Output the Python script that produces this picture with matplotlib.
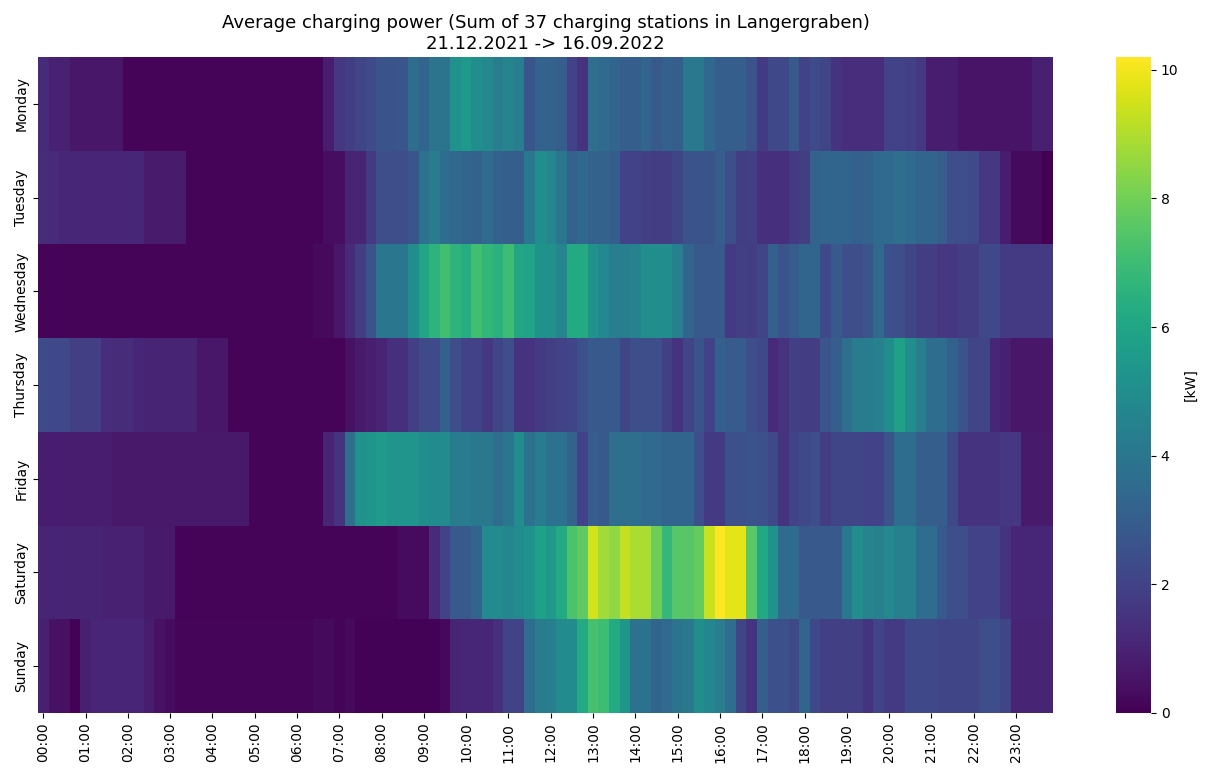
import numpy as np
import pandas as pd
import matplotlib
matplotlib.use("Agg")
import matplotlib.pyplot as plt
import seaborn as sns

days = ["Monday", "Tuesday", "Wednesday", "Thursday", "Friday", "Saturday", "Sunday"]
hour_labels = [f"{h:02d}:00" for h in range(24)]
slot_labels = [f"{h:02d}:{m:02d}" for h in range(24) for m in (0, 15, 30, 45)]

# Average power in kW per 15-minute slot
monday = [
    1.2, 0.95, 0.95, 0.6, 0.6, 0.6, 0.6, 0.6, 0.1, 0.1, 0.1, 0.1,
    0.1, 0.1, 0.1, 0.1, 0.1, 0.1, 0.1, 0.1, 0.1, 0.1, 0.1, 0.1,
    0.1, 0.1, 0.1, 0.8, 1.6, 1.8, 2.1, 2.3, 2.6, 2.6, 2.7, 3.6,
    3.3, 3.9, 3.9, 5.1, 5.5, 5.0, 4.8, 4.3, 4.6, 4.3, 2.7, 3.2,
    3.2, 3.0, 2.0, 1.5, 3.7, 3.5, 3.3, 3.0, 3.0, 3.3, 2.8, 3.1,
    3.0, 4.1, 4.1, 3.4, 3.0, 3.0, 3.0, 2.6, 1.7, 2.2, 2.2, 2.8,
    2.0, 2.3, 2.1, 1.5, 1.3, 1.3, 1.3, 1.3, 2.0, 2.0, 1.9, 1.6,
    0.8, 0.8, 0.8, 0.55, 0.55, 0.55, 0.55, 0.55, 0.55, 0.55, 0.9, 0.9,
]
tuesday = [
    1.25, 1.2, 1.1, 1.1, 1.05, 1.05, 1.05, 1.05, 1.1, 1.1, 0.75, 0.75,
    0.75, 0.75, 0.1, 0.1, 0.1, 0.1, 0.1, 0.1, 0.1, 0.1, 0.1, 0.1,
    0.1, 0.1, 0.1, 0.35, 0.35, 1.0, 1.0, 1.7, 2.4, 2.4, 2.4, 2.7,
    3.8, 4.2, 3.6, 3.4, 3.3, 3.2, 3.5, 3.2, 3.0, 3.0, 4.1, 5.0,
    4.7, 4.0, 3.2, 3.4, 3.2, 3.2, 3.0, 2.0, 2.0, 1.9, 1.8, 1.8,
    2.1, 2.6, 2.6, 2.6, 3.0, 2.4, 1.8, 1.9, 1.4, 1.4, 1.4, 1.7,
    1.8, 3.2, 3.3, 3.3, 3.3, 3.1, 3.2, 3.5, 3.5, 3.7, 3.5, 3.3,
    3.3, 3.0, 2.4, 2.4, 2.3, 1.6, 1.6, 0.8, 0.25, 0.25, 0.25, 0.0,
]
wednesday = [
    0.1, 0.1, 0.1, 0.1, 0.1, 0.1, 0.1, 0.1, 0.1, 0.1, 0.1, 0.1,
    0.1, 0.1, 0.1, 0.1, 0.1, 0.1, 0.1, 0.1, 0.1, 0.1, 0.1, 0.1,
    0.1, 0.1, 0.25, 0.25, 0.6, 1.2, 1.8, 2.6, 4.0, 4.0, 4.0, 5.0,
    6.0, 6.6, 7.1, 6.6, 6.3, 7.1, 6.7, 6.5, 7.0, 6.0, 5.9, 5.2,
    5.1, 4.6, 6.2, 6.2, 5.2, 4.8, 4.3, 4.3, 4.5, 5.0, 5.0, 5.0,
    4.4, 3.3, 2.8, 2.8, 2.8, 1.7, 1.9, 1.8, 2.1, 3.1, 2.6, 2.9,
    3.3, 3.3, 2.2, 2.8, 2.4, 2.4, 2.7, 3.4, 2.5, 2.4, 2.1, 1.8,
    1.8, 1.6, 1.6, 1.8, 1.8, 2.2, 2.2, 1.75, 1.75, 1.75, 1.75, 1.75,
]
thursday = [
    2.3, 2.2, 2.2, 1.9, 1.9, 1.9, 1.3, 1.25, 1.25, 1.1, 1.0, 1.0,
    1.0, 1.0, 1.0, 0.6, 0.6, 0.6, 0.1, 0.1, 0.1, 0.1, 0.1, 0.1,
    0.08, 0.08, 0.08, 0.08, 0.08, 0.45, 0.7, 0.85, 1.0, 1.4, 1.4, 1.9,
    2.3, 2.3, 3.1, 2.4, 2.0, 2.0, 1.6, 2.1, 2.4, 1.5, 1.5, 1.7,
    1.9, 2.0, 2.1, 2.5, 2.8, 2.8, 2.8, 2.1, 2.4, 2.4, 2.4, 1.9,
    1.5, 2.1, 2.6, 2.0, 3.1, 2.9, 2.9, 2.4, 2.2, 1.2, 1.5, 1.9,
    1.8, 1.8, 2.7, 3.0, 3.7, 4.2, 4.2, 4.4, 5.0, 5.8, 5.0, 4.3,
    3.6, 3.6, 3.1, 2.6, 2.1, 2.1, 1.1, 0.9, 0.6, 0.6, 0.6, 0.6,
]
friday = [
    0.8, 0.8, 0.8, 0.8, 0.8, 0.8, 0.8, 0.65, 0.65, 0.65, 0.65, 0.65,
    0.65, 0.65, 0.65, 0.65, 0.65, 0.65, 0.65, 0.65, 0.1, 0.1, 0.1, 0.1,
    0.1, 0.1, 0.1, 1.0, 1.5, 3.7, 5.1, 5.3, 5.6, 5.3, 5.3, 5.3,
    5.0, 4.9, 4.9, 4.2, 4.2, 4.1, 4.1, 3.6, 4.0, 5.0, 3.8, 4.2,
    3.8, 3.8, 3.2, 2.0, 3.0, 2.8, 3.7, 3.7, 3.7, 3.5, 3.5, 3.3,
    3.3, 3.3, 2.4, 1.7, 1.7, 2.5, 2.5, 2.6, 2.5, 2.2, 1.5, 2.0,
    2.2, 2.4, 1.8, 2.1, 2.1, 2.1, 2.0, 2.0, 2.6, 3.6, 3.6, 3.0,
    3.0, 3.0, 2.2, 1.5, 1.5, 1.5, 1.5, 1.6, 1.6, 0.7, 0.7, 0.7,
]
saturday = [
    1.0, 1.0, 1.0, 1.0, 1.0, 1.0, 0.95, 0.95, 0.95, 0.95, 0.7, 0.7,
    0.7, 0.1, 0.1, 0.1, 0.1, 0.1, 0.1, 0.1, 0.1, 0.1, 0.1, 0.1,
    0.1, 0.1, 0.1, 0.1, 0.1, 0.1, 0.1, 0.1, 0.1, 0.1, 0.3, 0.3,
    0.3, 1.2, 2.0, 2.8, 2.8, 3.3, 4.9, 4.9, 4.7, 4.9, 5.2, 5.8,
    5.5, 6.2, 7.3, 7.7, 9.5, 8.8, 8.5, 9.3, 8.9, 8.9, 7.9, 6.8,
    7.5, 7.5, 7.8, 9.4, 10.2, 9.8, 9.8, 7.6, 6.1, 5.1, 3.5, 3.5,
    2.8, 2.8, 2.8, 2.8, 4.1, 5.0, 4.6, 4.4, 4.8, 4.4, 4.4, 3.6,
    3.6, 2.8, 2.4, 2.4, 2.0, 2.0, 2.0, 1.5, 1.1, 1.1, 1.1, 1.1,
]
sunday = [
    0.9, 0.45, 0.4, 0.05, 0.9, 1.05, 1.05, 1.05, 1.05, 1.05, 0.8, 0.45,
    0.3, 0.15, 0.15, 0.15, 0.15, 0.15, 0.15, 0.15, 0.15, 0.15, 0.15, 0.15,
    0.15, 0.15, 0.25, 0.25, 0.1, 0.25, 0.05, 0.05, 0.05, 0.05, 0.05, 0.05,
    0.05, 0.05, 0.2, 1.0, 1.1, 1.1, 1.1, 1.4, 2.0, 2.0, 3.6, 4.2,
    4.3, 4.9, 4.9, 6.2, 7.2, 7.0, 6.2, 5.3, 3.8, 3.8, 3.3, 3.5,
    3.9, 4.1, 5.0, 4.7, 4.3, 3.6, 2.1, 1.5, 3.0, 2.5, 2.5, 2.2,
    3.3, 2.2, 1.9, 1.9, 1.9, 1.9, 1.5, 2.1, 1.7, 1.7, 2.2, 2.2,
    2.2, 2.1, 2.1, 2.1, 2.1, 2.4, 2.4, 2.1, 1.0, 1.0, 1.0, 1.0,
]

power = pd.DataFrame(
    [monday, tuesday, wednesday, thursday, friday, saturday, sunday],
    index=days, columns=slot_labels,
)

W, H = 1207, 772
fig = plt.figure(figsize=(W / 100, H / 100), dpi=100)
ax = fig.add_axes([38 / W, (H - 713) / H, (1053 - 38) / W, (713 - 57) / H])
cax = fig.add_axes([1116 / W, (H - 713) / H, 35 / W, (713 - 57) / H])

sns.heatmap(power, cmap="viridis", ax=ax, cbar_ax=cax,
            cbar_kws={"label": "[kW]"}, xticklabels=False, yticklabels=True)

ax.set_xticks(np.arange(0, 96, 4) + 0.5)
ax.set_xticklabels(hour_labels, rotation=90, fontsize=10)
ax.set_yticklabels(days, rotation=90, va="center", fontsize=10)
ax.set_xlabel("")
ax.set_ylabel("")
ax.set_title("Average charging power (Sum of 37 charging stations in Langergraben)\n"
             "21.12.2021 -> 16.09.2022", fontsize=13)
cax.tick_params(labelsize=10)
cax.yaxis.label.set_size(10)

fig.savefig("out.png", dpi=100)
